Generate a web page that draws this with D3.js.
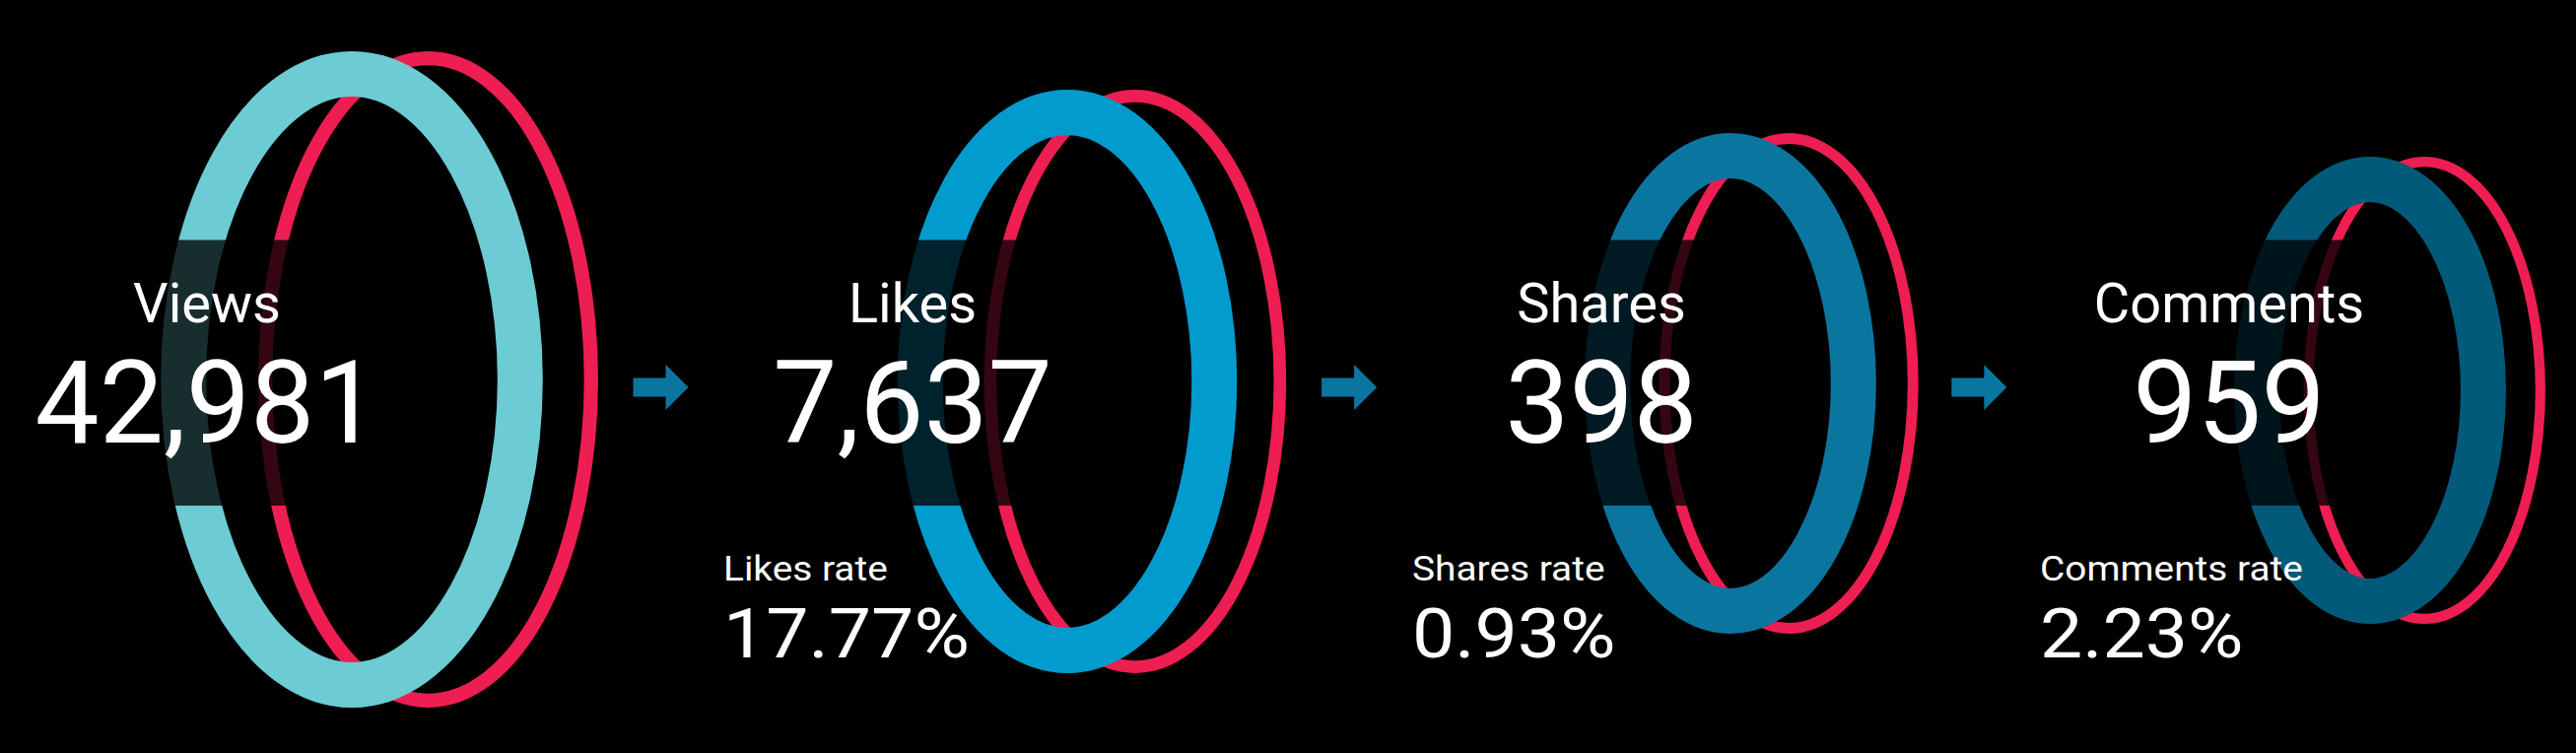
<!DOCTYPE html>
<html>
<head>
<meta charset="utf-8">
<script src="https://cdn.jsdelivr.net/npm/d3@7"></script>
<style>
  body { margin: 0; background: #000; }
  svg { display: block; }
  text { font-family: Roboto, "Noto Sans", sans-serif; fill: #fff; }
</style>
</head>
<body>
<svg width="2614" height="764"></svg>
<script>
const stages = ["Views", "Likes", "Shares", "Comments"];
const counts = [42981, 7637, 398, 959];
const rateNames = [null, "Likes rate", "Shares rate", "Comments rate"];
const rates = [null, 17.77, 0.93, 2.23];
const ringColors = ["#6ccbd3", "#029bcd", "#0a76a0", "#025a7a"];

const svg = d3.select("svg");

// layout of each panel (ring centre, ring height, text column)
const ringX = d3.scaleOrdinal().domain(stages).range([357, 1083, 1756, 2405]);
const ringY = d3.scaleOrdinal().domain(stages).range([385, 387, 389, 396]);
const ringH = d3.scaleOrdinal().domain(stages).range([333, 296, 254, 237]);
const textX = d3.scaleOrdinal().domain(stages).range([210, 926, 1625, 2262]);
const colour = d3.scaleOrdinal().domain(stages).range(ringColors);

const ringW = 46;
const band = { top: 243.5, bottom: 513 };
const textHalf = 192;

const data = stages.map((s, i) => {
  const ry = ringH(s);
  const rx = ry * 0.582;
  const redRx = rx * 0.89;
  const redCx = ringX(s) + rx * 0.40;
  const redW = ry * 0.043;
  return {
    stage: s, count: counts[i], rateName: rateNames[i], rate: rates[i],
    cx: ringX(s), cy: ringY(s), rx, ry, redRx, redCx, redW
  };
});

const panels = svg.selectAll("g.panel")
  .data(data)
  .enter()
  .append("g")
  .attr("class", "panel");

// red back ring
panels.append("ellipse")
  .attr("cx", d => d.redCx)
  .attr("cy", d => d.cy)
  .attr("rx", d => d.redRx - d.redW / 2)
  .attr("ry", d => d.ry - d.redW / 2)
  .attr("fill", "none")
  .attr("stroke", "#ee1d52")
  .attr("stroke-width", d => d.redW);

// front ring
panels.append("ellipse")
  .attr("cx", d => d.cx)
  .attr("cy", d => d.cy)
  .attr("rx", d => d.rx - ringW / 2)
  .attr("ry", d => d.ry - ringW / 2)
  .attr("fill", "none")
  .attr("stroke", d => colour(d.stage))
  .attr("stroke-width", ringW);

// dark band behind the text
panels.append("rect")
  .attr("x", d => d.cx - d.rx - 20)
  .attr("y", band.top)
  .attr("width", d => d.rx + 20)
  .attr("height", band.bottom - band.top)
  .attr("fill", "#000")
  .attr("opacity", 0.78);

panels.append("text")
  .attr("x", d => textX(d.stage))
  .attr("y", 327)
  .attr("text-anchor", "middle")
  .style("font-size", "56px")
  .text(d => d.stage);

panels.append("text")
  .attr("x", d => textX(d.stage))
  .attr("y", 449)
  .attr("text-anchor", "middle")
  .style("font-size", "116px")
  .text(d => d3.format(",")(d.count));

const rated = panels.filter(d => d.rate !== null);

// rate texts are a little wider than plain Roboto in the original
rated.append("text")
  .attr("transform", d => `translate(${textX(d.stage) - textHalf},589) scale(1.11,1)`)
  .style("font-size", "35px")
  .text(d => d.rateName);

rated.append("text")
  .attr("transform", d => `translate(${textX(d.stage) - textHalf},667) scale(1.1,1)`)
  .style("font-size", "70px")
  .text(d => d3.format(".2f")(d.rate) + "%");

// arrows between panels
const arrowPath = "M-28,-9.5 L5,-9.5 L5,-23 L28,0 L5,23 L5,9.5 L-28,9.5 Z";
svg.selectAll("path.arrow")
  .data(d3.pairs(data))
  .enter()
  .append("path")
  .attr("class", "arrow")
  .attr("transform", ([a, b]) => {
    const x = (a.redCx + a.redRx + textX(b.stage) - textHalf) / 2;
    return `translate(${x},393)`;
  })
  .attr("d", arrowPath)
  .attr("fill", "#0a76a0");
</script>
</body>
</html>
